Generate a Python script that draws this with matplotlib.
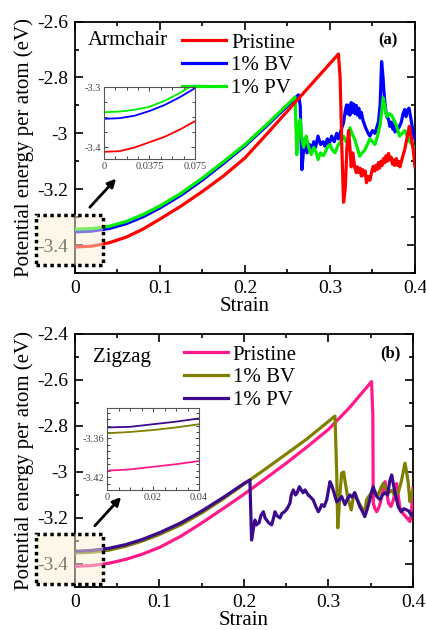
import numpy as np
import matplotlib.pyplot as plt
from matplotlib.patches import Rectangle
from matplotlib.ticker import MultipleLocator, FixedLocator, FuncFormatter

plt.rcParams['font.family'] = ['Liberation Serif', 'DejaVu Serif']
plt.rcParams['axes.unicode_minus'] = False

# ---------------- (a) Armchair ----------------
arm_pri_x = [0, 0.02, 0.04, 0.06, 0.08, 0.1, 0.125, 0.15, 0.175, 0.2, 0.225, 0.25, 0.275, 0.3, 0.31,
             0.312, 0.314, 0.316, 0.318, 0.320, 0.322, 0.3235, 0.325, 0.327, 0.329, 0.331, 0.3325, 0.334,
             0.3355, 0.337, 0.3385, 0.340, 0.3415, 0.343, 0.345, 0.347, 0.349, 0.351, 0.3525, 0.354, 0.3555,
             0.357, 0.3585, 0.360, 0.3615, 0.363, 0.3645, 0.366, 0.3675, 0.369, 0.3705, 0.372, 0.3735,
             0.3745, 0.376, 0.378, 0.3795, 0.381, 0.3824, 0.385, 0.388, 0.3905, 0.3933, 0.396, 0.398, 0.4]
arm_pri_y = [-3.407, -3.404, -3.392, -3.372, -3.343, -3.307, -3.260, -3.208, -3.152, -3.088, -3.005, -2.920,
             -2.835, -2.750, -2.716,
             -2.80, -3.05, -3.247, -3.20, -3.05, -2.99, -3.05, -3.12, -3.07, -3.12, -3.141, -3.12, -3.14,
             -3.125, -3.153, -3.13, -3.15, -3.135, -3.177, -3.155, -3.168, -3.14, -3.118, -3.135, -3.115,
             -3.13, -3.105, -3.125, -3.10, -3.115, -3.09, -3.105, -3.08, -3.10, -3.072, -3.095, -3.085, -3.11,
             -3.095, -3.115, -3.09, -3.115, -3.10, -3.12, -3.09, -3.058, -3.02, -2.975, -3.02, -3.058, -3.12]

arm_bv_x = [0, 0.02, 0.04, 0.06, 0.08, 0.1, 0.125, 0.15, 0.175, 0.2, 0.225, 0.25, 0.263,
            0.265, 0.267, 0.269, 0.2706, 0.273, 0.276, 0.278, 0.281, 0.283, 0.286, 0.289, 0.292, 0.294,
            0.297, 0.299, 0.302, 0.305, 0.308, 0.31, 0.313, 0.316, 0.318, 0.3196, 0.321, 0.322, 0.3235,
            0.325, 0.3265, 0.328, 0.3295, 0.331, 0.3325, 0.334, 0.3355, 0.337, 0.339, 0.342, 0.345, 0.347,
            0.350, 0.353, 0.355, 0.357, 0.359, 0.3608, 0.3625, 0.3635, 0.365, 0.3667, 0.369, 0.3705,
            0.3725, 0.374, 0.375, 0.3765, 0.378, 0.381, 0.384, 0.386, 0.388, 0.3895, 0.391, 0.393, 0.396,
            0.398, 0.4]
arm_bv_y = [-3.353, -3.350, -3.341, -3.324, -3.299, -3.267, -3.221, -3.167, -3.107, -3.045, -2.975, -2.902, -2.862,
            -2.90, -3.13, -3.06, -3.02, -3.07, -3.04, -3.06, -3.03, -3.05, -3.01, -3.04, -3.03, -3.046,
            -3.02, -3.04, -3.01, -3.03, -3.00, -3.02, -2.99, -2.962, -2.92, -2.898, -2.93, -2.90, -2.935,
            -2.89, -2.925, -2.895, -2.93, -2.90, -2.935, -2.91, -2.945, -2.925, -2.955, -2.98, -3.00, -3.01,
            -2.99, -3.00, -2.98, -2.96, -2.90, -2.743, -2.80, -2.85, -2.90, -2.94, -2.95, -2.975,
            -2.96, -2.985, -2.97, -2.995, -2.99, -2.98, -2.96, -2.93, -2.915, -2.94, -2.92, -2.91, -2.96,
            -3.00, -3.02]

arm_pv_x = [0, 0.02, 0.04, 0.06, 0.08, 0.1, 0.125, 0.15, 0.175, 0.2, 0.225, 0.25, 0.259,
            0.261, 0.263, 0.265, 0.267, 0.269, 0.272, 0.275, 0.278, 0.281, 0.284, 0.286, 0.289, 0.292,
            0.294, 0.297, 0.300, 0.303, 0.306, 0.310, 0.313, 0.316, 0.319, 0.3216, 0.3235, 0.326, 0.329,
            0.332, 0.335, 0.338, 0.341, 0.344, 0.347, 0.350, 0.353, 0.356, 0.359, 0.361, 0.3627, 0.365,
            0.367, 0.370, 0.3725, 0.375, 0.378, 0.380, 0.382, 0.385, 0.388, 0.391, 0.394, 0.397, 0.4]
arm_pv_y = [-3.343, -3.341, -3.333, -3.316, -3.291, -3.260, -3.214, -3.160, -3.101, -3.040, -2.970, -2.897, -2.870,
            -3.076, -2.98, -2.951, -3.02, -3.05, -3.01, -3.05, -3.076, -3.05, -3.07, -3.094, -3.07, -3.08,
            -3.07, -3.05, -3.04, -3.06, -3.07, -3.04, -3.03, -3.01, -3.03, -3.03, -2.98, -3.00, -3.02,
            -3.05, -3.082, -3.07, -3.06, -3.04, -3.02, -3.03, -3.04, -3.01, -2.97, -2.92, -2.873, -2.91,
            -2.94, -2.93, -2.935, -2.95, -2.97, -2.99, -3.01, -3.00, -2.99, -3.01, -3.03, -3.04, -3.06]

# inset (a)
ins_a_x = [0, 0.0125, 0.025, 0.0375, 0.05, 0.0625, 0.075]
ins_a_pri = [-3.408, -3.407, -3.401, -3.392, -3.383, -3.371, -3.357]
ins_a_bv = [-3.353, -3.352, -3.348, -3.340, -3.330, -3.317, -3.302]
ins_a_pv = [-3.342, -3.341, -3.338, -3.333, -3.323, -3.310, -3.295]

# ---------------- (b) Zigzag ----------------
zig_pri_x = [0, 0.02, 0.04, 0.06, 0.08, 0.1, 0.125, 0.15, 0.175, 0.2, 0.225, 0.25, 0.275, 0.3, 0.325, 0.351,
             0.3525, 0.353, 0.355, 0.357, 0.359, 0.361, 0.364, 0.367, 0.369, 0.371, 0.374, 0.377, 0.3807,
             0.3846, 0.388, 0.3905, 0.393, 0.3964, 0.398, 0.399, 0.4]
zig_pri_y = [-3.410, -3.407, -3.397, -3.380, -3.357, -3.328, -3.280, -3.222, -3.160, -3.097, -3.030, -2.962,
             -2.890, -2.815, -2.720, -2.607,
             -2.75, -3.135, -3.16, -3.173, -3.16, -3.14, -3.09, -3.042, -3.09, -3.135, -3.15, -3.12, -3.05,
             -3.158, -3.18, -3.19, -3.20, -3.216, -3.19, -3.13, -3.07]

zig_bv_x = [0, 0.02, 0.04, 0.06, 0.08, 0.1, 0.125, 0.15, 0.175, 0.2, 0.225, 0.25, 0.275, 0.3, 0.3077,
            0.3097, 0.311, 0.3135, 0.3156, 0.318, 0.320, 0.3227, 0.325, 0.327, 0.329, 0.331, 0.334, 0.337,
            0.340, 0.343, 0.345, 0.347, 0.349, 0.351, 0.353, 0.356, 0.359, 0.362, 0.365, 0.368, 0.371,
            0.375, 0.378, 0.3826, 0.3866, 0.3905, 0.3925, 0.3945, 0.3964, 0.398, 0.4]
zig_bv_y = [-3.352, -3.349, -3.340, -3.323, -3.300, -3.272, -3.230, -3.178, -3.118, -3.053, -2.988, -2.922,
            -2.855, -2.780, -2.757,
            -3.0, -3.243, -3.10, -3.005, -3.00, -3.05, -3.107, -3.14, -3.165, -3.12, -3.09, -3.12, -3.14,
            -3.16, -3.173, -3.122, -3.11, -3.10, -3.09, -3.078, -3.09, -3.10, -3.07, -3.049, -3.07, -3.09,
            -3.08, -3.10, -3.09, -3.035, -2.962, -3.00, -3.05, -3.129, -3.10, -3.08]

zig_pv_x = [0, 0.02, 0.04, 0.06, 0.08, 0.1, 0.125, 0.15, 0.175, 0.2, 0.207,
            0.209, 0.211, 0.213, 0.215, 0.218, 0.220, 0.2229, 0.225, 0.2268, 0.229, 0.2328, 0.235, 0.2367,
            0.239, 0.2426, 0.245, 0.248, 0.251, 0.2544, 0.256, 0.2584, 0.261, 0.263, 0.2655, 0.268, 0.270,
            0.2722, 0.276, 0.279, 0.282, 0.285, 0.288, 0.290, 0.292, 0.295, 0.298, 0.3018, 0.304, 0.3057,
            0.3097, 0.313, 0.3156, 0.3195, 0.322, 0.3254, 0.328, 0.331, 0.334, 0.337, 0.340, 0.343, 0.346,
            0.349, 0.3515, 0.353, 0.356, 0.358, 0.361, 0.364, 0.367, 0.370, 0.3725, 0.3748, 0.3787, 0.3826,
            0.386, 0.389, 0.3925, 0.395, 0.3985, 0.4]
zig_pv_y = [-3.345, -3.341, -3.332, -3.316, -3.293, -3.264, -3.222, -3.170, -3.112, -3.050, -3.035,
            -3.296, -3.25, -3.209, -3.23, -3.22, -3.19, -3.173, -3.20, -3.209, -3.22, -3.23, -3.20, -3.173,
            -3.19, -3.20, -3.18, -3.173, -3.16, -3.136, -3.10, -3.078, -3.10, -3.09, -3.064, -3.08, -3.09,
            -3.078, -3.10, -3.11, -3.122, -3.15, -3.173, -3.16, -3.142, -3.15, -3.12, -3.042, -3.06, -3.08,
            -3.13, -3.12, -3.107, -3.142, -3.12, -3.10, -3.11, -3.09, -3.12, -3.15, -3.17, -3.194, -3.16,
            -3.12, -3.08, -3.064, -3.10, -3.11, -3.12, -3.10, -3.09, -3.10, -3.04, -3.013, -3.09, -3.151,
            -3.173, -3.16, -3.165, -3.17, -3.19, -3.18]

# inset (b)
ins_b_x = [0, 0.01, 0.02, 0.03, 0.04]
ins_b_pri = [-3.410, -3.408, -3.404, -3.400, -3.395]
ins_b_bv = [-3.352, -3.350, -3.347, -3.343, -3.338]
ins_b_pv = [-3.343, -3.342, -3.338, -3.334, -3.329]

labels = ['Pristine', '1% BV', '1% PV']
colors_a = ['#ff0000', '#0000ff', '#00ee00']
colors_b = ['#ff1a8c', '#808000', '#3c0a8c']

fmt = FuncFormatter(lambda v, p: '%g' % round(v, 4))


def style_main(ax, ylim, ymaj):
    ax.set_xlim(0, 0.4)
    ax.set_ylim(*ylim)
    ax.xaxis.set_major_locator(MultipleLocator(0.1))
    ax.xaxis.set_minor_locator(MultipleLocator(0.05))
    ax.yaxis.set_major_locator(FixedLocator(ymaj))
    ax.yaxis.set_minor_locator(MultipleLocator(0.1))
    ax.xaxis.set_major_formatter(fmt)
    ax.yaxis.set_major_formatter(fmt)
    ax.tick_params(which='both', direction='in', top=True, right=True, width=1.2, labelsize=14, pad=5)
    ax.tick_params(which='major', length=6)
    ax.tick_params(which='minor', length=3)
    for s in ax.spines.values():
        s.set_linewidth(1.3)
    ax.set_xlabel('Strain', fontsize=15, labelpad=0)
    ax.set_ylabel('Potential energy per atom (eV)', fontsize=15, labelpad=2)


def style_inset(ax, xlim, ylim, xmaj, xmin, ymaj, ymin):
    ax.set_xlim(*xlim)
    ax.set_ylim(*ylim)
    ax.xaxis.set_major_locator(FixedLocator(xmaj))
    ax.xaxis.set_minor_locator(MultipleLocator(xmin))
    ax.yaxis.set_major_locator(FixedLocator(ymaj))
    ax.yaxis.set_minor_locator(MultipleLocator(ymin))
    ax.xaxis.set_major_formatter(fmt)
    ax.yaxis.set_major_formatter(fmt)
    ax.tick_params(which='both', direction='in', top=True, right=True, width=0.7,
                   labelsize=7.5, labelcolor='#444444', color='#444444', pad=2)
    ax.tick_params(which='major', length=3)
    ax.tick_params(which='minor', length=2)
    for s in ax.spines.values():
        s.set_linewidth(0.8)
        s.set_color('#555555')


fig = plt.figure(figsize=(4.26, 6.3), dpi=100)

# ---- panel (a)
ax1 = fig.add_axes([0.176, 0.5667, 0.798, 0.399])
ax1.plot(arm_bv_x, arm_bv_y, color=colors_a[1], lw=2.3, label=labels[1], zorder=3)
ax1.plot(arm_pv_x, arm_pv_y, color=colors_a[2], lw=2.3, label=labels[2], zorder=4)
ax1.plot(arm_pri_x, arm_pri_y, color=colors_a[0], lw=2.3, label=labels[0], zorder=5)
style_main(ax1, (-3.5, -2.6), [-2.6, -2.8, -3.0, -3.2, -3.4])
h, l = ax1.get_legend_handles_labels()
ax1.legend([h[2], h[0], h[1]], [l[2], l[0], l[1]], loc='upper left', bbox_to_anchor=(0.315, 0.955),
           frameon=False, fontsize=15, handlelength=2.1, handletextpad=0.25, labelspacing=0.15,
           borderpad=0, borderaxespad=0)
ax1.text(0.038, 0.923, 'Armchair', transform=ax1.transAxes, fontsize=15, va='center', ha='left')
ax1.text(0.92, 0.927, '(a)', transform=ax1.transAxes, fontsize=12, fontweight='bold', va='center', ha='center')
ax1.add_patch(Rectangle((-0.0459, -3.472), 0.0789, 0.178, facecolor=(0.98, 0.94, 0.83), alpha=0.5,
                        edgecolor='none', clip_on=False, zorder=6))
ax1.add_patch(Rectangle((-0.0459, -3.472), 0.0789, 0.178, facecolor='none', edgecolor='black',
                        lw=2.5, ls=(0, (1, 1)), clip_on=False, zorder=7))
ax1.annotate('', xy=(0.0506, -3.155), xytext=(0.0153, -3.272),
             arrowprops=dict(arrowstyle='-|>', color='black', lw=2, mutation_scale=12), zorder=8)

in1 = fig.add_axes([0.244, 0.7476, 0.2136, 0.1143])
in1.plot(ins_a_x, ins_a_pri, color=colors_a[0], lw=1.3)
in1.plot(ins_a_x, ins_a_bv, color=colors_a[1], lw=1.3)
in1.plot(ins_a_x, ins_a_pv, color=colors_a[2], lw=1.3)
style_inset(in1, (0, 0.075), (-3.42, -3.3), [0, 0.0375, 0.075], 0.009375, [-3.3, -3.4], 0.025)

# ---- panel (b)
ax2 = fig.add_axes([0.176, 0.0683, 0.7934, 0.4016])
ax2.plot(zig_pri_x, zig_pri_y, color=colors_b[0], lw=2.3, label=labels[0], zorder=3)
ax2.plot(zig_bv_x, zig_bv_y, color=colors_b[1], lw=2.3, label=labels[1], zorder=4)
ax2.plot(zig_pv_x, zig_pv_y, color=colors_b[2], lw=2.3, label=labels[2], zorder=5)
style_main(ax2, (-3.5, -2.4), [-2.4, -2.6, -2.8, -3.0, -3.2, -3.4])
ax2.legend(loc='upper left', bbox_to_anchor=(0.322, 0.956), frameon=False, fontsize=15,
           handlelength=2.1, handletextpad=0.25, labelspacing=0.15, borderpad=0, borderaxespad=0)
ax2.text(0.053, 0.905, 'Zigzag', transform=ax2.transAxes, fontsize=15, va='center', ha='left')
ax2.text(0.932, 0.925, '(b)', transform=ax2.transAxes, fontsize=12, fontweight='bold', va='center', ha='center')
ax2.add_patch(Rectangle((-0.0462, -3.487), 0.0793, 0.217, facecolor=(0.98, 0.94, 0.83), alpha=0.5,
                        edgecolor='none', clip_on=False, zorder=6))
ax2.add_patch(Rectangle((-0.0462, -3.487), 0.0793, 0.217, facecolor='none', edgecolor='black',
                        lw=2.5, ls=(0, (1, 1)), clip_on=False, zorder=7))
ax2.annotate('', xy=(0.0568, -3.10), xytext=(0.0213, -3.243),
             arrowprops=dict(arrowstyle='-|>', color='black', lw=2, mutation_scale=12), zorder=8)

in2 = fig.add_axes([0.2512, 0.2222, 0.216, 0.130])
in2.plot(ins_b_x, ins_b_pri, color=colors_b[0], lw=1.3)
in2.plot(ins_b_x, ins_b_bv, color=colors_b[1], lw=1.3)
in2.plot(ins_b_x, ins_b_pv, color=colors_b[2], lw=1.3)
style_inset(in2, (0, 0.04), (-3.44, -3.313), [0, 0.02, 0.04], 0.005, [-3.36, -3.42], 0.01)

fig.savefig('out.png', dpi=100)
